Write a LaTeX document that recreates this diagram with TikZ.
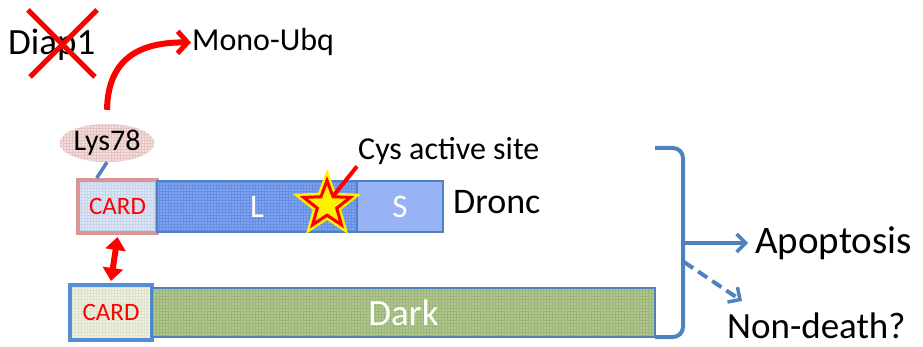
\documentclass[tikz,border=0pt]{standalone}
\usepackage{fontspec}
\setmainfont{Carlito}
\usetikzlibrary{arrows.meta,shapes.geometric,calc,patterns}
\definecolor{myred}{HTML}{FF0000}
\definecolor{myblue}{HTML}{4F81BD}
\definecolor{cardpink}{HTML}{D99694}
\definecolor{cardblue}{HTML}{DCE5F4}
\definecolor{cardgrid}{HTML}{C8D4EC}
\definecolor{lblue}{HTML}{7CA2F0}
\definecolor{lgrid}{HTML}{668FE4}
\definecolor{sblue}{HTML}{97B3F4}
\definecolor{cream}{HTML}{EEF1E2}
\definecolor{creamgrid}{HTML}{DCE3C8}
\definecolor{olive}{HTML}{B0C88E}
\definecolor{olivegrid}{HTML}{9CB578}
\definecolor{lyspink}{HTML}{F2DEDD}
\definecolor{lysgrid}{HTML}{E5C4C3}
\definecolor{kblue}{HTML}{558ED5}
\begin{document}
\begin{tikzpicture}[x=1pt,y=-1pt,
  lbl/.style={inner sep=0pt, anchor=base west, text=black},
  dom/.style={draw=myblue, line width=1.5pt, inner sep=0pt, text=white},
  gridded/.style 2 args={preaction={fill=#1}, preaction={pattern=grid, pattern color=#2}},
  redarrow/.style={draw=myred, line width=6pt, -{Straight Barb[length=10pt,width=22pt,line width=5pt]}},
  bluearrow/.style={draw=myblue, line width=4pt, -{Straight Barb[length=9pt,width=18pt,line width=3.5pt]}}
]
\useasboundingbox (0,0) rectangle (923,347);

% Diap1 crossed out
\node[lbl, font=\fontsize{37}{40}\selectfont] (diap) at (8,55) {Diap1};
\draw[myred, line width=5pt] (28,10) -- (95,77);
\draw[myred, line width=5pt] (97,10) -- (30,77);

% Mono-Ubq
\node[lbl, font=\fontsize{32}{36}\selectfont] (mono) at (192,51) {Mono-Ubq};

% Lys78
\node[ellipse, gridded={lyspink}{lysgrid}, minimum width=88pt, minimum height=38pt, inner sep=0pt,
      font=\fontsize{30}{32}\selectfont] (lys) at (107,143) {Lys78};

% Dronc
\node[dom, draw=cardpink, line width=4pt, gridded={cardblue}{cardgrid}, minimum width=79pt, minimum height=53pt,
      text=myred, font=\fontsize{25}{27}\selectfont] (dcard) at (117.5,206.5) {CARD};
\node[dom, gridded={lblue}{lgrid}, minimum width=200pt, minimum height=51pt,
      font=\fontsize{33}{35}\selectfont] (dl) at (257,206.5) {L};
\node[dom, fill=sblue, minimum width=86pt, minimum height=51pt,
      font=\fontsize{33}{35}\selectfont] (ds) at (400,206.5) {S};
\node[lbl, font=\fontsize{36}{40}\selectfont] (dronc) at (453,214) {Dronc};

% star
\node[star, star points=5, star point ratio=2.4, minimum size=49pt, inner sep=0pt,
      fill=yellow, draw=myred, line width=3pt,
      preaction={draw=yellow, line width=8pt}] (star) at (327,205) {};
\node[lbl, font=\fontsize{32}{34}\selectfont] (cys) at (358,160) {Cys active site};
\draw[myred, line width=4pt] (star.55) -- ([xshift=-1pt,yshift=-1pt]cys.south west);

% Dark
\node[dom, draw=kblue, line width=4pt, gridded={cream}{creamgrid}, minimum width=82pt, minimum height=55pt,
      text=myred, font=\fontsize{25}{27}\selectfont] (kcard) at (111,312.5) {CARD};
\node[dom, gridded={olive}{olivegrid}, line width=1.2pt, minimum width=503pt, minimum height=49pt,
      font=\fontsize{37}{40}\selectfont] (kbar) at (403.5,312.5) {Dark};

% connectors
\draw[myblue, line width=3.5pt] (lys.south) -- ($(dcard.north west)!0.25!(dcard.north east)$);
\draw[redarrow] ([yshift=14pt]lys.north) .. controls (108,58) and (140,42) .. ([xshift=-1pt]mono.west);
\draw[myred, line width=6pt, {Triangle[length=13pt,width=20pt]}-{Triangle[length=13pt,width=20pt]}]
  ([shift={(0pt,-2pt)}]dcard.south) -- ([shift={(0pt,2pt)}]kcard.north);

% bracket
\coordinate (bm) at (683,243);
\draw[myblue, line width=4pt, rounded corners=10pt] (655,148) -| (bm) |- (655,337);

\node[lbl, font=\fontsize{39}{42}\selectfont] (apop) at (755,254) {Apoptosis};
\node[lbl, font=\fontsize{37}{40}\selectfont] (nond) at (727,338) {Non-death?};
\draw[bluearrow] (bm) -- ([xshift=-7pt]bm -| apop.west);
\coordinate (ds0) at (684,262);
\coordinate (ds1) at (742,301);
\draw[bluearrow, dash pattern=on 11pt off 6pt] (ds0) -- (ds1);
\end{tikzpicture}
\end{document}
